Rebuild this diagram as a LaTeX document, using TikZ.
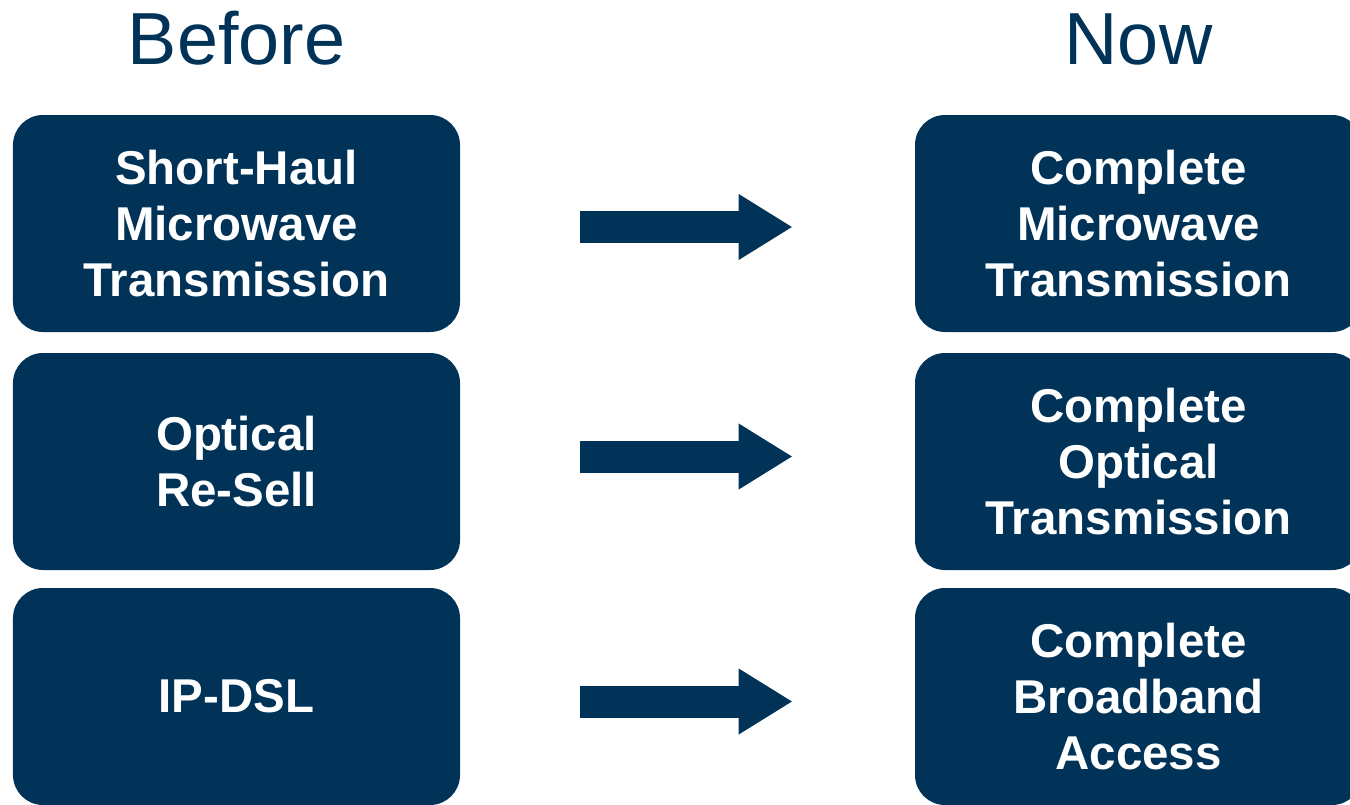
\documentclass[tikz,border=0pt]{standalone}
\usepackage{fontspec}
\setmainfont{Liberation Sans}
\usetikzlibrary{arrows.meta}
\definecolor{navy}{RGB}{0,51,87}

\begin{document}
\begin{tikzpicture}[
    box/.style={fill=navy, text=white, rounded corners=0.6cm, minimum width=8.94cm,
        minimum height=4.34cm, align=center, font=\bfseries\fontsize{27}{32}\selectfont},
    title/.style={text=navy, anchor=base, font=\fontsize{42}{48}\selectfont},
    fat/.style={navy, line width=0.64cm, shorten <=2.4cm, shorten >=2.44cm,
        -{Triangle[length=1.08cm, width=1.24cm]}}]
    \useasboundingbox (0, 0) rectangle (27, -16.08);
    \clip (0, 0) rectangle (27, -16.08);

    \node (before) [title] at (4.73, -1.3) {Before};
    \node (now) [title] at (22.77, -1.3) {Now};

    \node (b1) [box] at (4.73, -4.47) {Short-Haul\\Microwave\\Transmission};
    \node (b2) [box] at (4.73, -9.23) {Optical\\Re-Sell};
    \node (b3) [box] at (4.73, -13.93) {IP-DSL};

    \node (n1) [box] at (22.77, -4.47) {Complete\\Microwave\\Transmission};
    \node (n2) [box] at (22.77, -9.23) {Complete\\Optical\\Transmission};
    \node (n3) [box] at (22.77, -13.93) {Complete\\Broadband\\Access};

    \draw[fat] ([yshift=-0.07cm]b1.east) -- ([yshift=-0.07cm]n1.west);
    \draw[fat] ([yshift=0.1cm]b2.east) -- ([yshift=0.1cm]n2.west);
    \draw[fat] ([yshift=-0.1cm]b3.east) -- ([yshift=-0.1cm]n3.west);
\end{tikzpicture}
\end{document}
